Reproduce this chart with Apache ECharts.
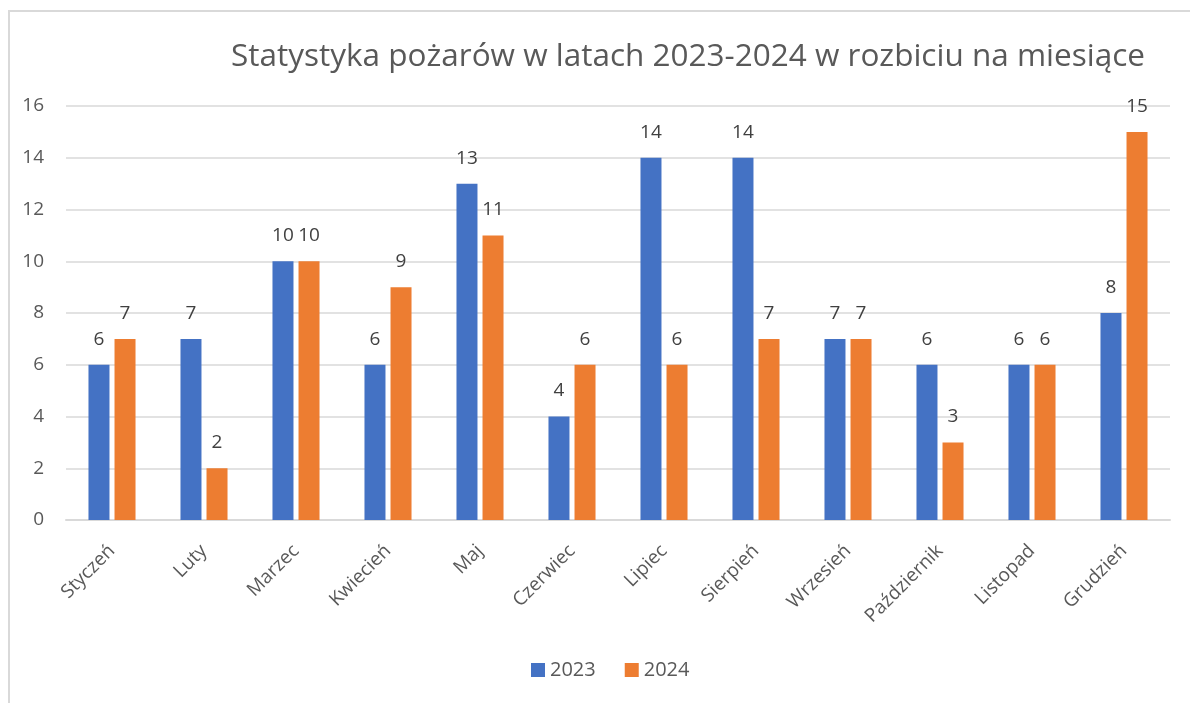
<!DOCTYPE html>
<html>
<head>
<meta charset="utf-8">
<script src="https://cdn.jsdelivr.net/npm/echarts@6/dist/echarts.min.js"></script>
<style>
  html, body { margin: 0; padding: 0; background: #fff; overflow: hidden; }
  #frame { position: absolute; left: 8px; top: 10px; width: 1300px; height: 800px; border: 2px solid #d9d9d9; box-sizing: border-box; }
  #chart { position: absolute; left: 0; top: 0; width: 1190px; height: 703px; }
</style>
</head>
<body>
<div id="frame"></div>
<div id="chart"></div>
<script>
// Chart data
const months = ['Styczeń', 'Luty', 'Marzec', 'Kwiecień', 'Maj', 'Czerwiec', 'Lipiec', 'Sierpień', 'Wrzesień', 'Październik', 'Listopad', 'Grudzień'];
const fires2023 = [6, 7, 10, 6, 13, 4, 14, 14, 7, 6, 6, 8];
const fires2024 = [7, 2, 10, 9, 11, 6, 6, 7, 7, 3, 6, 15];

const font = '"Open Sans", "Noto Sans", sans-serif';
const textColor = '#595959';

const chart = echarts.init(document.getElementById('chart'));
chart.setOption({
  animation: false,
  title: {
    text: 'Statystyka pożarów w latach 2023-2024 w rozbiciu na miesiące',
    left: 226,
    top: 36,
    textStyle: { fontFamily: font, fontSize: 31.5, fontWeight: 'normal', color: textColor }
  },
  legend: {
    bottom: 18,
    left: 526,
    itemWidth: 14,
    itemHeight: 14,
    itemGap: 29,
    icon: 'rect',
    textStyle: { fontFamily: font, fontSize: 20, color: textColor }
  },
  grid: { left: 66, right: 20, top: 106, bottom: 183 },
  xAxis: {
    type: 'category',
    data: months,
    axisLine: { lineStyle: { color: '#d9d9d9', width: 2 } },
    axisTick: { show: false },
    axisLabel: { rotate: 45, fontFamily: font, fontSize: 19, color: textColor, margin: 28, interval: 0 }
  },
  yAxis: {
    type: 'value',
    min: 0,
    max: 16,
    interval: 2,
    axisLine: { show: false },
    axisTick: { show: false },
    splitLine: { lineStyle: { color: '#d9d9d9', width: 1.5 } },
    axisLabel: { fontFamily: font, fontSize: 19, color: textColor, margin: 22 }
  },
  series: [
    {
      name: '2023',
      type: 'bar',
      data: fires2023,
      barWidth: 21,
      barGap: '24%',
      itemStyle: { color: '#4472c4' },
      label: { show: true, position: 'top', distance: 16, fontFamily: font, fontSize: 19, color: '#404040' }
    },
    {
      name: '2024',
      type: 'bar',
      data: fires2024,
      barWidth: 21,
      itemStyle: { color: '#ed7d31' },
      label: { show: true, position: 'top', distance: 16, fontFamily: font, fontSize: 19, color: '#404040' }
    }
  ]
});
</script>
</body>
</html>
